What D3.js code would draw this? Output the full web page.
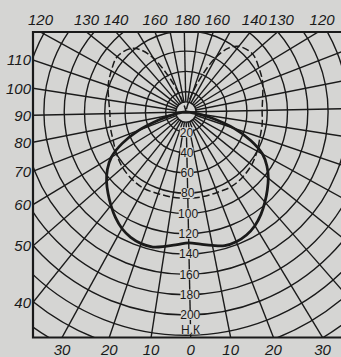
<!DOCTYPE html>
<html>
<head>
<meta charset="utf-8">
<script src="https://cdn.jsdelivr.net/npm/d3@7"></script>
<style>
  html, body { margin: 0; padding: 0; background: #d6d6d4; }
  svg { display: block; }
</style>
</head>
<body>
<svg id="chart" width="341" height="357"></svg>
<script>
// ---- grid description ----
const ringValues = [10, 20, 40, 60, 80, 100, 120, 140, 160, 180, 200, 220, 240, 260];
const spokeAngles = d3.range(0, 181, 10);
const axisLabels = [20, 40, 60, 80, 100, 120, 140, 160, 180, 200];
const bottomTicks = [-30, -20, -10, 0, 10, 20, 30];
const sideTicks = [-110, -100, -90, -80, -70, -60, -50, -40];
const topTicks = [-120, -130, -140, -160, 180, 160, 140, 130, 120];
const unitLabel = "Н.К";

// ---- luminous intensity curves (angle from nadir, degrees) ----
const solidAngles = [0, 5, 10, 15, 20, 25, 30, 35, 40, 45, 50, 55, 60, 65, 70, 75, 80, 85, 90];
const solidCd     = [129, 131, 134, 137, 137, 135, 131, 125, 118, 111, 104, 96, 86, 70, 50, 28, 12, 4, 0];

const dashedAngles = [0, 10, 20, 30, 40, 50, 60, 70, 80, 90, 100, 110, 120, 130, 140, 145, 150, 155, 160, 165, 170, 180];
const dashedCd     = [85, 85, 85, 86, 85, 83, 80, 77, 76, 75, 77, 81, 84, 87, 83, 76, 62, 40, 20, 8, 2, 0];

// ---- geometry ----
const W = 341, H = 357;
const cx = 186, cy = 112, tilt = 1.2;
const frame = { x0: 33, y0: 32, x1: 348, y1: 337.5 };
const r = d3.scaleLinear().domain([0, 100]).range([0, 101.5]);
const ink = "#1a1a1a", paper = "#d5d5d3";

const svg = d3.select("#chart");
svg.append("rect").attr("width", W).attr("height", H).attr("fill", paper);

svg.append("defs").append("clipPath").attr("id", "plot")
  .append("rect")
  .attr("x", frame.x0).attr("y", frame.y0)
  .attr("width", frame.x1 - frame.x0).attr("height", frame.y1 - frame.y0);

function dir(s) {
  const u = (s + tilt) * Math.PI / 180;
  return [Math.sin(u), Math.cos(u)];
}
function pt(s, rad) {
  const [dx, dy] = dir(s);
  return [cx + rad * dx, cy + rad * dy];
}

const plot = svg.append("g").attr("clip-path", "url(#plot)");

// concentric rings
plot.selectAll("circle.ring").data(ringValues).join("circle")
  .attr("class", "ring")
  .attr("cx", cx).attr("cy", cy)
  .attr("r", d => r(d))
  .attr("fill", "none").attr("stroke", ink).attr("stroke-width", 1.4);

// radial spokes
const spokes = [];
spokeAngles.forEach(a => {
  if (a === 0 || a === 180) spokes.push(a);
  else { spokes.push(a); spokes.push(-a); }
});
plot.selectAll("line.spoke").data(spokes).join("line")
  .attr("class", "spoke")
  .attr("x1", d => pt(d, Math.abs(d) === 90 ? 0 : r(10))[0])
  .attr("y1", d => pt(d, Math.abs(d) === 90 ? 0 : r(10))[1])
  .attr("x2", d => pt(d, 500)[0])
  .attr("y2", d => pt(d, 500)[1])
  .attr("stroke", ink).attr("stroke-width", 1.4);

// curves
const radial = d3.lineRadial()
  .angle(d => Math.PI - (d.s + tilt) * Math.PI / 180)
  .radius(d => r(d.v))
  .curve(d3.curveCatmullRom.alpha(0.5));

function mirrored(angles, values) {
  const left = angles.map((a, i) => ({ s: -a, v: values[i] })).reverse();
  const right = angles.map((a, i) => ({ s: a, v: values[i] }));
  return left.concat(right.slice(1));
}

const curves = plot.append("g").attr("transform", `translate(${cx},${cy})`);
curves.append("path")
  .datum(mirrored(dashedAngles, dashedCd))
  .attr("d", radial)
  .attr("fill", "none").attr("stroke", ink)
  .attr("stroke-width", 1.5).attr("stroke-dasharray", "7,3");
curves.append("path")
  .datum(mirrored(solidAngles, solidCd))
  .attr("d", radial)
  .attr("fill", "none").attr("stroke", ink)
  .attr("stroke-width", 2.8);

// frame
svg.append("path")
  .attr("d", `M${frame.x1},${frame.y0}H${frame.x0}V${frame.y1}H${frame.x1}`)
  .attr("fill", "none").attr("stroke", ink).attr("stroke-width", 2.2);

// intensity labels along the nadir axis
const axisG = svg.append("g")
  .attr("font-family", "'Liberation Sans Narrow', 'Liberation Sans', sans-serif")
  .attr("font-size", 12).attr("fill", ink).attr("text-anchor", "middle");
axisLabels.forEach(v => {
  const [x, y] = pt(0, r(v));
  const w = String(v).length * 5.6 + 2;
  axisG.append("rect").attr("x", x - w / 2).attr("y", y - 5).attr("width", w).attr("height", 10).attr("fill", paper);
  axisG.append("text").attr("x", x).attr("y", y + 4.3).text(v);
});
{
  const [x, y] = pt(0, r(214));
  axisG.append("rect").attr("x", x - 10).attr("y", y - 5).attr("width", 20).attr("height", 10).attr("fill", paper);
  axisG.append("text").attr("x", x).attr("y", y + 4.5).text(unitLabel);
}

// angle labels round the frame
const tickG = svg.append("g")
  .attr("font-family", "'Liberation Sans Narrow', 'Liberation Sans', sans-serif")
  .attr("font-style", "italic").attr("font-size", 15).attr("fill", ink);

bottomTicks.forEach(s => {
  const [dx, dy] = dir(s);
  const x = cx + (frame.y1 - cy) / dy * dx;
  tickG.append("text").attr("x", x).attr("y", 355).attr("text-anchor", "middle").text(Math.abs(s));
});
sideTicks.forEach(s => {
  const [dx, dy] = dir(s);
  const y = cy + (frame.x0 - cx) / dx * dy;
  tickG.append("text").attr("x", 31).attr("y", y + 5.5).attr("text-anchor", "end").text(Math.abs(s));
});
topTicks.forEach(s => {
  const [dx, dy] = dir(s);
  const x = cx + (frame.y0 - cy) / dy * dx;
  const shift = s > 0 && s < 180 ? 4 : (s === 180 ? 3 : 0);
  tickG.append("text").attr("x", x + shift).attr("y", 25).attr("text-anchor", "middle").text(Math.abs(s));
});
</script>
</body>
</html>
